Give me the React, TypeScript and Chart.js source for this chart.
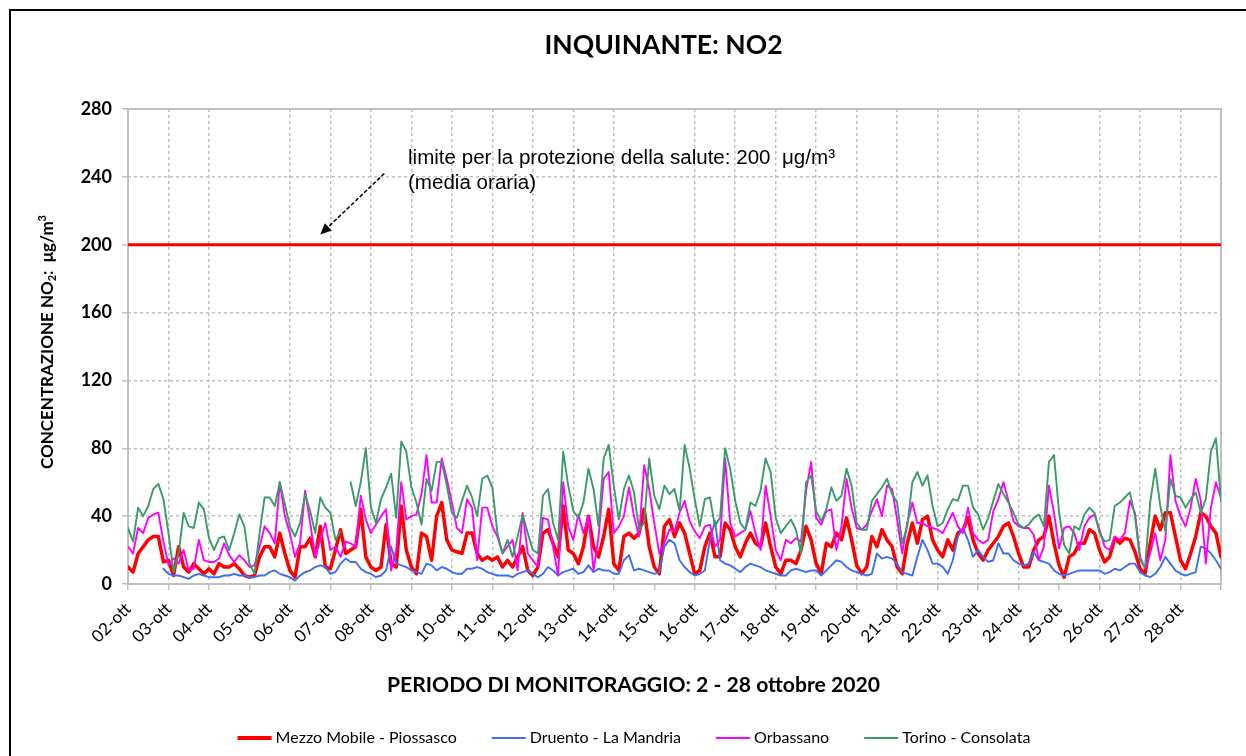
import React, { useEffect, useRef } from 'react';
import { Chart, registerables } from 'chart.js';

Chart.register(...registerables);

// ---------- DATA ----------
const dayLabels = [
  '02-ott', '03-ott', '04-ott', '05-ott', '06-ott', '07-ott', '08-ott', '09-ott', '10-ott',
  '11-ott', '12-ott', '13-ott', '14-ott', '15-ott', '16-ott', '17-ott', '18-ott', '19-ott',
  '20-ott', '21-ott', '22-ott', '23-ott', '24-ott', '25-ott', '26-ott', '27-ott', '28-ott',
];
const stepHours = 3; // one value every 3 hours
const yTickValues = [0, 40, 80, 120, 160, 200, 240, 280];
const seriesNames = ['Mezzo Mobile - Piossasco', 'Druento - La Mandria', 'Orbassano', 'Torino - Consolata'];
const limitValue = 200;
const skippedGridDays = [3, 13, 23];

const mezzoMobile = [
  10, 7, 18, 22, 26, 28, 28, 13,
  14, 5, 22, 10, 7, 12, 9, 6,
  9, 6, 12, 10, 10, 12, 9, 5,
  4, 5, 16, 22, 22, 16, 30, 18,
  8, 4, 22, 22, 27, 16, 34, 10,
  9, 20, 32, 18, 20, 22, 44, 16,
  10, 8, 10, 35, 12, 10, 46, 20,
  10, 6, 30, 28, 14, 40, 48, 26,
  20, 19, 18, 30, 30, 18, 14, 16,
  14, 16, 10, 14, 10, 16, 22, 8,
  5, 10, 30, 32, 24, 16, 46, 20,
  18, 12, 22, 40, 22, 16, 28, 44,
  12, 8, 28, 30, 27, 30, 44, 22,
  10, 6, 34, 38, 28, 36, 30, 18,
  6, 8, 22, 30, 16, 16, 36, 32,
  22, 16, 24, 30, 24, 22, 36, 22,
  10, 6, 14, 14, 12, 20, 34, 26,
  12, 6, 24, 22, 30, 26, 39, 26,
  11, 6, 10, 28, 22, 32, 26, 22,
  10, 6, 24, 36, 24, 38, 40, 26,
  20, 16, 26, 20, 30, 32, 39, 26,
  18, 14, 20, 24, 28, 34, 36, 28,
  18, 10, 10, 20, 26, 28, 40, 24,
  11, 4, 16, 18, 24, 24, 32, 30,
  20, 13, 16, 27, 24, 27, 26, 19,
  9, 6, 24, 40, 32, 42, 42, 28,
  14, 9, 18, 28, 42, 40, 34, 30,
  16,
];

const druento = [
  null, null, null, null, null, null, null, 9,
  6, 5, 5, 4, 3, 5, 6, 5,
  4, 4, 4, 5, 5, 6, 5, 5,
  4, 4, 5, 5, 7, 8, 6, 5,
  4, 2, 5, 7, 8, 10, 11, 10,
  6, 7, 12, 15, 13, 13, 9, 7,
  6, 4, 5, 8, 22, 12, 11, 10,
  8, 7, 6, 12, 11, 8, 10, 9,
  7, 6, 6, 9, 9, 10, 9, 7,
  6, 5, 5, 5, 4, 6, 7, 8,
  6, 4, 6, 10, 8, 5, 7, 8,
  9, 6, 7, 11, 7, 9, 8, 8,
  6, 6, 14, 17, 8, 9, 8, 7,
  6, 7, 22, 26, 24, 14, 10, 7,
  5, 6, 8, 26, 37, 14, 12, 11,
  9, 7, 10, 12, 11, 10, 8, 7,
  6, 5, 5, 8, 9, 8, 7, 8,
  8, 5, 8, 11, 14, 13, 10, 8,
  7, 6, 5, 6, 18, 15, 16, 15,
  12, 7, 6, 5, 16, 26, 20, 12,
  12, 10, 6, 14, 28, 33, 26, 16,
  20, 16, 13, 14, 24, 18, 18, 14,
  12, 11, 12, 19, 14, 13, 12, 8,
  6, 5, 6, 7, 8, 8, 8, 8,
  8, 6, 7, 9, 8, 10, 12, 12,
  7, 5, 4, 6, 10, 16, 12, 8,
  6, 5, 6, 7, 22, 21, 18, 14,
  9,
];

const orbassano = [
  22, 18, 33, 30, 39, 41, 42, 25,
  11, 15, 12, 20, 8, 9, 26, 14,
  13, 13, 15, 24, 17, 13, 17, 14,
  10, 11, 22, 34, 30, 24, 60, 40,
  30, 16, 24, 55, 36, 16, 26, 36,
  20, 22, 16, 25, 24, 22, 52, 38,
  30, 35, 40, 44, 8, 20, 60, 38,
  40, 41, 53, 76, 48, 48, 74, 62,
  48, 33, 30, 50, 45, 14, 45, 45,
  34, 28, 18, 22, 26, 8, 42, 18,
  14, 10, 39, 38, 22, 5, 60, 34,
  26, 41, 30, 40, 8, 28, 62, 66,
  30, 34, 40, 57, 40, 28, 70, 56,
  36, 18, 24, 32, 31, 42, 49, 37,
  31, 27, 34, 35, 22, 26, 74, 36,
  28, 30, 32, 43, 30, 20, 58, 40,
  20, 14, 26, 24, 27, 25, 55, 72,
  39, 35, 43, 44, 20, 34, 62, 45,
  33, 32, 35, 43, 50, 40, 58, 56,
  38, 18, 36, 48, 36, 36, 34, 33,
  32, 30, 36, 42, 34, 30, 45, 30,
  26, 24, 26, 43, 50, 60, 49, 37,
  34, 33, 33, 29, 14, 22, 58, 42,
  21, 33, 34, 30, 20, 34, 39, 41,
  32, 22, 20, 28, 26, 30, 49, 42,
  16, 9, 18, 30, 14, 26, 76, 49,
  40, 34, 45, 62, 49, 12, 45, 60,
  51,
];

const torino = [
  33, 25, 45, 40, 46, 56, 59, 50,
  30, 7, 18, 42, 34, 33, 48, 44,
  27, 20, 27, 28, 20, 30, 41, 34,
  12, 6, 30, 51, 51, 46, 60, 47,
  34, 28, 36, 53, 43, 30, 51, 45,
  42, 26, 31, null, 60, 46, 60, 80,
  45, 36, 50, 57, 65, 39, 84, 78,
  57, 48, 35, 62, 55, 72, 72, 58,
  42, 39, 49, 58, 51, 40, 62, 64,
  57, 30, 18, 26, 16, 28, 41, 30,
  20, 18, 52, 56, 36, 26, 78, 58,
  43, 39, 48, 68, 56, 34, 74, 82,
  58, 38, 56, 64, 54, 32, 36, 74,
  52, 44, 58, 53, 56, 43, 82, 68,
  50, 34, 50, 51, 34, 39, 80, 68,
  49, 36, 32, 48, 46, 55, 74, 66,
  39, 30, 34, 38, 32, 18, 60, 64,
  43, 37, 44, 57, 49, 52, 68, 58,
  36, 32, 32, 49, 53, 57, 62, 53,
  48, 24, 34, 60, 66, 58, 64, 46,
  34, 36, 44, 50, 49, 58, 58, 45,
  41, 32, 39, 49, 59, 53, 48, 42,
  35, 33, 35, 39, 41, 34, 72, 76,
  42, 23, 18, 34, 32, 41, 45, 42,
  30, 25, 26, 46, 48, 51, 54, 40,
  14, 10, 48, 68, 46, 31, 62, 52,
  51, 45, 50, 54, 42, 50, 78, 86,
  49,
];

const seriesColors = ['#FF0000', '#3D6EF2', '#FF00FF', '#3A9A68'];
const seriesWidths = [3.5, 1.9, 1.9, 1.9];

// annotation anchors (data units: hours, µg/m³)
const annotationText = ['limite per la protezione della salute: 200  μg/m³', '(media oraria)'];
const annotationAt = { x: 166, y: 251 };
const arrowFrom = { x: 152, y: 242 };
const arrowTo = { x: 114, y: 206 };

const totalHours = dayLabels.length * 24;
const toPoints = (arr: (number | null)[]) => arr.map((v, i) => ({ x: i * stepHours, y: v }));

const GRID = '#BFBFBF';

function drawFitted(ctx: CanvasRenderingContext2D, text: string, x: number, y: number, font: string, width: number | null, align: CanvasTextAlign = 'center') {
  ctx.save();
  ctx.font = font;
  const w = ctx.measureText(text).width;
  const s = width ? width / w : 1;
  ctx.translate(x, y);
  ctx.scale(s, 1);
  ctx.textAlign = align;
  ctx.textBaseline = 'middle';
  ctx.fillStyle = '#000';
  ctx.fillText(text, 0, 0);
  ctx.restore();
  return s;
}

const decorPlugin = {
  id: 'decor',
  beforeDraw(chart: any) {
    const ctx = chart.ctx as CanvasRenderingContext2D;
    ctx.save();
    ctx.fillStyle = '#fff';
    ctx.fillRect(0, 0, chart.width, chart.height);
    ctx.fillStyle = '#000';
    ctx.fillRect(9, 9, 2, chart.height - 9);
    ctx.fillRect(9, 9, chart.width - 9, 2);
    ctx.restore();
  },
  beforeDatasetsDraw(chart: any) {
    const ctx = chart.ctx as CanvasRenderingContext2D;
    const a = chart.chartArea;
    ctx.save();
    ctx.strokeStyle = GRID;
    ctx.lineWidth = 2;
    ctx.setLineDash([]);
    ctx.strokeRect(a.left, a.top, a.right - a.left, a.bottom - a.top);
    ctx.restore();
  },
  afterDraw(chart: any) {
    const ctx = chart.ctx as CanvasRenderingContext2D;
    const a = chart.chartArea;
    const xs = chart.scales.x;
    const ys = chart.scales.y;

    // Title
    drawFitted(ctx, 'INQUINANTE: NO2', (a.left + a.right) / 2 - 11, 45, 'bold 27px Lato', 238);

    // X axis title
    drawFitted(ctx, 'PERIODO DI MONITORAGGIO: 2 - 28 ottobre 2020', (a.left + a.right) / 2 - 41, 686, 'bold 20px Lato', 493);

    // Y axis title with sub/superscripts
    ctx.save();
    ctx.translate(47, 342);
    ctx.rotate(-Math.PI / 2);
    const segs = [
      { t: 'CONCENTRAZIONE NO', f: 'bold 17px Lato', dy: 0 },
      { t: '2', f: 'bold 11px Lato', dy: 3 },
      { t: ':  μg/m', f: 'bold 17px Lato', dy: 0 },
      { t: '3', f: 'bold 11px Lato', dy: -7 },
    ];
    let total = 0;
    segs.forEach((s) => { ctx.font = s.f; total += ctx.measureText(s.t).width; });
    const sc = 254 / total;
    ctx.scale(sc, 1);
    let cx = -total / 2;
    ctx.fillStyle = '#000';
    ctx.textAlign = 'left';
    ctx.textBaseline = 'alphabetic';
    segs.forEach((s) => {
      ctx.font = s.f;
      ctx.fillText(s.t, cx, 6 + s.dy);
      cx += ctx.measureText(s.t).width;
    });
    ctx.restore();

    // Annotation text
    const tx = xs.getPixelForValue(annotationAt.x);
    const ty = ys.getPixelForValue(annotationAt.y);
    const s1 = drawFitted(ctx, annotationText[0], tx, ty, '20px "Liberation Sans"', 427, 'left');
    ctx.save();
    ctx.font = '20px "Liberation Sans"';
    ctx.translate(tx, ty + 25);
    ctx.scale(s1, 1);
    ctx.fillStyle = '#000';
    ctx.textAlign = 'left';
    ctx.textBaseline = 'middle';
    ctx.fillText(annotationText[1], 0, 0);
    ctx.restore();

    // Arrow
    const x1 = xs.getPixelForValue(arrowFrom.x), y1 = ys.getPixelForValue(arrowFrom.y);
    const x2 = xs.getPixelForValue(arrowTo.x), y2 = ys.getPixelForValue(arrowTo.y);
    const ang = Math.atan2(y2 - y1, x2 - x1);
    const headLen = 11, headW = 5;
    ctx.save();
    ctx.strokeStyle = '#000';
    ctx.lineWidth = 1.5;
    ctx.setLineDash([4, 2]);
    ctx.beginPath();
    ctx.moveTo(x1, y1);
    ctx.lineTo(x2 - Math.cos(ang) * headLen * 0.8, y2 - Math.sin(ang) * headLen * 0.8);
    ctx.stroke();
    ctx.setLineDash([]);
    ctx.fillStyle = '#000';
    ctx.beginPath();
    ctx.moveTo(x2, y2);
    ctx.lineTo(x2 - Math.cos(ang) * headLen - Math.sin(ang) * headW, y2 - Math.sin(ang) * headLen + Math.cos(ang) * headW);
    ctx.lineTo(x2 - Math.cos(ang) * headLen + Math.sin(ang) * headW, y2 - Math.sin(ang) * headLen - Math.cos(ang) * headW);
    ctx.closePath();
    ctx.fill();
    ctx.restore();

    // Legend
    ctx.save();
    ctx.font = '16px Lato';
    const lineLen = 34, gapText = 4, gapItem = 35;
    const widths = seriesNames.map((n) => ctx.measureText(n).width);
    const totalW = widths.reduce((s, w) => s + w + lineLen + gapText, 0) + gapItem * (seriesNames.length - 1);
    let lx = 634 - totalW / 2;
    const ly = 738;
    seriesNames.forEach((n, i) => {
      ctx.strokeStyle = seriesColors[i];
      ctx.lineWidth = i === 0 ? 4 : 2;
      ctx.beginPath();
      ctx.moveTo(lx, ly);
      ctx.lineTo(lx + lineLen, ly);
      ctx.stroke();
      ctx.fillStyle = '#000';
      ctx.textAlign = 'left';
      ctx.textBaseline = 'middle';
      ctx.fillText(n, lx + lineLen + gapText, ly);
      lx += lineLen + gapText + widths[i] + gapItem;
    });
    ctx.restore();
  },
};

export default function App() {
  const ref = useRef<HTMLCanvasElement | null>(null);

  useEffect(() => {
    if (!ref.current) return;
    const seriesData = [mezzoMobile, druento, orbassano, torino];
    const seriesDatasets = seriesData.map((arr, i) => ({
      label: seriesNames[i],
      data: toPoints(arr),
      borderColor: seriesColors[i],
      backgroundColor: seriesColors[i],
      borderWidth: seriesWidths[i],
      pointRadius: 0,
      tension: 0,
      spanGaps: false,
      borderJoinStyle: 'round' as const,
      borderCapStyle: 'round' as const,
    }));
    // draw order: Torino on top, Mezzo Mobile at the bottom; limit line above all
    const datasets: any[] = [
      {
        label: 'limite',
        data: [{ x: 0, y: limitValue }, { x: totalHours, y: limitValue }],
        borderColor: '#FF0000',
        borderWidth: 3,
        pointRadius: 0,
      },
      ...seriesDatasets.slice().reverse(),
    ];

    const chart = new Chart(ref.current, {
      type: 'line',
      data: { datasets },
      options: {
        animation: false,
        responsive: false,
        maintainAspectRatio: false,
        layout: { padding: { top: 109, right: 25, left: 0, bottom: 0 } },
        plugins: {
          legend: { display: false },
          title: { display: false },
          tooltip: { enabled: false },
        },
        scales: {
          x: {
            type: 'linear',
            min: 0,
            max: totalHours,
            afterFit: (s: any) => { s.height = 172; },
            ticks: {
              stepSize: 24,
              autoSkip: false,
              minRotation: 45,
              maxRotation: 45,
              padding: 9,
              color: '#000',
              font: { family: 'Lato', size: 17 },
              callback: (v: any) => {
                const i = Math.round(Number(v) / 24);
                return i < dayLabels.length ? dayLabels[i] : '';
              },
            },
            grid: {
              color: (c: any) => {
                const d = c.tick ? Math.round(c.tick.value / 24) : -1;
                return skippedGridDays.includes(d) ? 'rgba(0,0,0,0)' : GRID;
              },
              lineWidth: 1.5,
              tickColor: GRID,
              tickLength: 6,
              tickWidth: 1.5,
              tickBorderDash: [],
            },
            border: { display: false, dash: [3, 3] },
          },
          y: {
            min: 0,
            max: 280,
            afterFit: (s: any) => { s.width = 128; },
            afterBuildTicks: (s: any) => { s.ticks = yTickValues.map((v) => ({ value: v })); },
            ticks: {
              stepSize: 40,
              padding: 10,
              color: '#000',
              font: { family: 'Lato', size: 18, weight: 'bold' },
            },
            grid: {
              color: GRID,
              lineWidth: 1.5,
              tickColor: GRID,
              tickLength: 6,
              tickWidth: 1.5,
              tickBorderDash: [],
            },
            border: { display: false, dash: [3, 3] },
          },
        },
      } as any,
      plugins: [decorPlugin],
    });
    return () => chart.destroy();
  }, []);

  return (
    <div style={{ position: 'absolute', left: 0, top: 0, width: 1246, height: 756 }}>
      <canvas ref={ref} width={1246} height={756} style={{ display: 'block', width: 1246, height: 756 }} />
    </div>
  );
}
